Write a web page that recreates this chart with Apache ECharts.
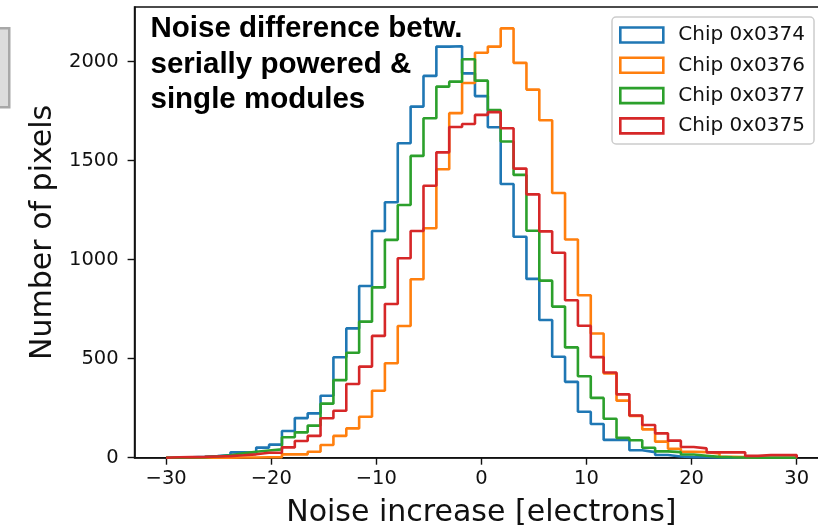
<!DOCTYPE html>
<html><head><meta charset="utf-8">
<script src="https://cdn.jsdelivr.net/npm/echarts@6/dist/echarts.min.js"></script>
<style>html,body{margin:0;padding:0;background:#fff}#c{width:818px;height:529px}</style>
</head><body><div id="c"></div>
<script>
// Histogram range (49 equal bins from -30 to 30)
const binMin = -30, binMax = 30;
const seriesNames = ['Chip 0x0374', 'Chip 0x0376', 'Chip 0x0377', 'Chip 0x0375'];
const seriesColors = ['#1f77b4', '#ff7f0e', '#2ca02c', '#d62728'];
const chip0374 = [1,2,4,8,14,27,26,51,66,135,200,224,313,507,653,867,1145,1290,1588,1773,1928,2076,2078,1941,1826,1669,1382,1116,903,695,510,383,232,170,90,90,38,28,14,6,3,2,1,0,0,0,0,0,0];
const chip0376 = [0,0,0,0,0,1,1,2,3,17,17,30,64,110,148,207,338,477,665,901,1159,1457,1740,1892,2045,2076,2168,1994,1859,1704,1337,1102,820,627,425,288,211,143,81,45,30,28,22,5,3,1,0,0,0];
const chip0377 = [0,1,3,6,12,22,30,36,42,103,128,162,273,392,530,687,860,1100,1276,1524,1714,1874,1899,2012,1904,1755,1597,1428,1146,894,763,557,411,302,197,100,88,50,32,28,16,10,4,2,1,0,0,0,0];
const chip0375 = [2,3,4,6,8,12,17,25,25,52,84,110,199,237,372,460,615,776,1007,1145,1373,1542,1670,1685,1731,1745,1664,1460,1330,1143,1035,795,666,508,430,320,213,165,123,86,54,47,27,27,27,9,14,14,14];
const xTicks = [-30, -20, -10, 0, 10, 20, 30];
const yTicks = [0, 500, 1000, 1500, 2000];
const annotationLines = ['Noise difference betw.', 'serially powered &', 'single modules'];

function stepOutline(counts) {
  const n = counts.length, w = (binMax - binMin) / n;
  const pts = [[binMin, 0]];
  for (let k = 0; k < n; k++) {
    const a = binMin + k * w;
    pts.push([a, counts[k]], [a + w, counts[k]]);
  }
  pts.push([binMax, 0]);
  return pts;
}

const allCounts = [chip0374, chip0376, chip0377, chip0375];
const chart = echarts.init(document.getElementById('c'), null, {renderer: 'canvas'});
const fontAx = 'DejaVu Sans';
const minus = v => String(v).replace('-', '\u2212');

chart.setOption({
  animation: false,
  backgroundColor: '#ffffff',
  grid: {left: 134.6, top: 7, right: -10.2, bottom: 71.3, show: true, borderColor: '#111', borderWidth: 1.6,
         containLabel: false, outerBoundsMode: 'none'},
  xAxis: {
    type: 'value', min: -33, max: 33,
    axisLine: {show: true, onZero: false, lineStyle: {color: '#111', width: 1.6}},
    axisTick: {show: true, customValues: xTicks, length: 7, lineStyle: {color: '#111', width: 1.4}},
    axisLabel: {customValues: xTicks, formatter: minus, fontSize: 19.5, fontFamily: fontAx, color: '#111', margin: 11},
    splitLine: {show: false},
    name: 'Noise increase [electrons]', nameLocation: 'middle', nameGap: 41,
    nameTextStyle: {fontSize: 30, fontFamily: fontAx, color: '#111'}
  },
  yAxis: {
    type: 'value', min: 0, max: 2276,
    axisLine: {show: true, onZero: false, lineStyle: {color: '#111', width: 1.6}},
    axisTick: {show: true, customValues: yTicks, length: 7, lineStyle: {color: '#111', width: 1.4}},
    axisLabel: {customValues: yTicks, formatter: v => String(v), fontSize: 19.5, fontFamily: fontAx, color: '#111', margin: 16},
    splitLine: {show: false},
    name: 'Number of pixels', nameLocation: 'middle', nameGap: 72, nameRotate: 90,
    nameTextStyle: {fontSize: 30, fontFamily: fontAx, color: '#111'}
  },
  legend: {
    orient: 'vertical', left: 612, top: 17,
    backgroundColor: '#ffffff', borderColor: '#cccccc', borderWidth: 1.5, borderRadius: 4,
    padding: [8, 9, 8, 7], itemWidth: 43, itemHeight: 15, itemGap: 10.3,
    textStyle: {fontSize: 20, fontFamily: fontAx, color: '#111', padding: [0, 0, 0, 10]},
    data: seriesNames.map((n, i) => ({name: n, icon: 'rect',
      itemStyle: {color: 'rgba(0,0,0,0)', borderColor: seriesColors[i], borderWidth: 2.6}}))
  },
  graphic: [
    {type: 'rect', left: -3, top: 27, shape: {width: 11, height: 79},
     style: {fill: '#dcdcdc', stroke: '#a8a8a8', lineWidth: 2.5}, z: 100},
    ...annotationLines.map((t, i) => ({
      type: 'text', left: 150.5, top: 14 + i * 35.5, z: 100,
      style: {text: t, font: 'bold 29.5px "Liberation Sans", Arial, sans-serif', fill: '#000'}
    }))
  ],
  series: allCounts.map((c, i) => ({
    name: seriesNames[i], type: 'line', data: stepOutline(c), showSymbol: false, symbol: 'none',
    color: seriesColors[i], lineStyle: {width: 2.6, color: seriesColors[i]}, z: 2 + i
  }))
});
</script></body></html>
